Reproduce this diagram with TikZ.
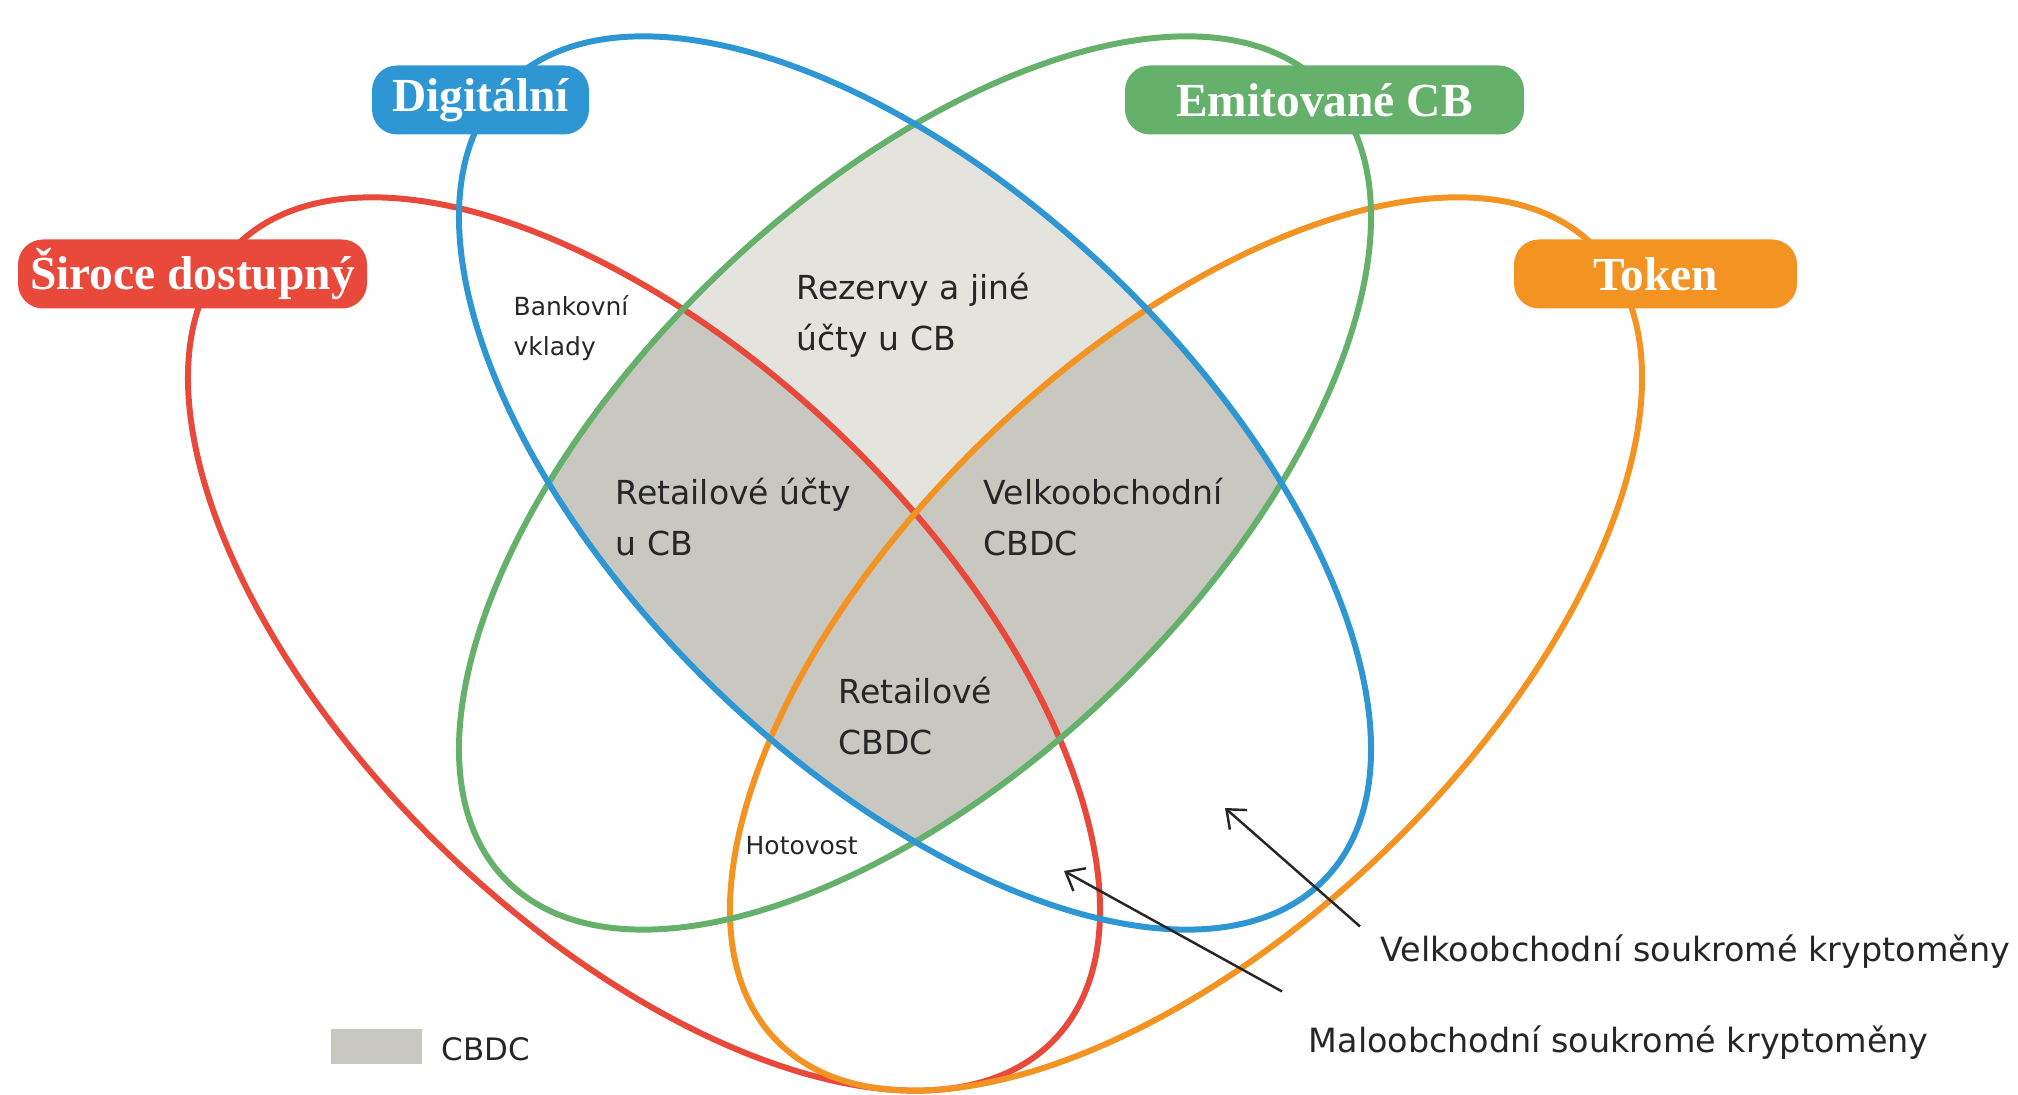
\documentclass[tikz,border=0pt]{standalone}
\usepackage{fontspec}
\setmainfont{DejaVu Sans}
\newfontfamily\tagfont{Liberation Serif}
\usepackage{tikz}
\usetikzlibrary{arrows.meta}
\definecolor{digitblue}{HTML}{2F96D4}
\definecolor{emitgreen}{HTML}{65B06B}
\definecolor{sirored}{HTML}{E8493B}
\definecolor{tokenorange}{HTML}{F39322}
\definecolor{cblight}{HTML}{E4E3DE}
\definecolor{cbdcgray}{HTML}{C8C7C0}
\definecolor{inkgray}{HTML}{262626}

\tikzset{
  ring/.style={line width=1.7pt},
  digitset/.style={shift={(9.15,6.12)},rotate=-44},
  emitset/.style={shift={(9.15,6.12)},rotate=44},
  siroset/.style={shift={(6.44,4.51)},rotate=-44},
  tokenset/.style={shift={(11.86,4.51)},rotate=44},
  tag/.style={rounded corners=0.25cm, text=white, inner sep=0pt,
    minimum height=0.69cm, font=\tagfont\bfseries\fontsize{13.5}{16}\selectfont},
  lbl/.style={anchor=west, inner sep=0pt, align=left, text=inkgray,
    font=\fontsize{9.4}{14.5}\selectfont},
  smalllbl/.style={anchor=west, inner sep=0pt, align=left, text=inkgray,
    font=\fontsize{7.1}{11.4}\selectfont},
  pointer/.style={-{Straight Barb[length=1.6mm,width=2.6mm]}, inkgray, line width=0.7pt}
}

\begin{document}
\begin{tikzpicture}
           \useasboundingbox (0,0) rectangle (20.18,10.95);

           % Shaded overlap of digital and CB issued
           \begin{scope}
             \clip[digitset] (0,0) ellipse (5.7 and 2.87);
             \clip[emitset] (0,0) ellipse (5.7 and 2.87);
             \fill[cblight] (0,0) rectangle (20.18,10.95);
             \fill[cbdcgray, siroset] (0,0) ellipse (5.7 and 2.87);
             \fill[cbdcgray, tokenset] (0,0) ellipse (5.7 and 2.87);
           \end{scope}

           % Ellipses
           \draw[ring, sirored, siroset] (0,0) ellipse (5.7 and 2.87);
           \draw[ring, tokenorange, tokenset] (0,0) ellipse (5.7 and 2.87);
           \draw[ring, emitgreen, emitset] (0,0) ellipse (5.7 and 2.87);
           \draw[ring, digitblue, digitset] (0,0) ellipse (5.7 and 2.87);

           % Set labels
           \draw (4.805,9.95) node (digital) [tag, fill=digitblue, minimum width=2.17cm] {Digitální};
           \draw (13.245,9.95) node (emitcb) [tag, fill=emitgreen, minimum width=3.99cm] {Emitované CB};
           \draw (1.925,8.21) node (siroce) [tag, fill=sirored, minimum width=3.49cm] {Široce dostupný};
           \draw (16.555,8.21) node (token) [tag, fill=tokenorange, minimum width=2.83cm] {Token};

           % Region labels
           \draw (5.13,7.67) node (bankvkl) [smalllbl] {Bankovní\\vklady};
           \draw (7.96,7.795) node (rezervy) [lbl] {Rezervy a jiné\\účty u CB};
           \draw (6.15,5.775) node (retucty) [lbl] {Retailové účty\\u CB};
           \draw (9.83,5.775) node (velkcbdc) [lbl] {Velkoobchodní\\CBDC};
           \draw (8.38,3.785) node (retcbdc) [lbl] {Retailové\\CBDC};
           \draw (7.45,2.49) node (hotovost) [smalllbl] {Hotovost};

           % Private crypto
           \draw (13.80,1.43) node (velkkrypto) [lbl, font=\fontsize{9.5}{11}\selectfont] {Velkoobchodní soukromé kryptoměny};
           \draw (13.08,0.52) node (malokrypto) [lbl, font=\fontsize{9.5}{11}\selectfont] {Maloobchodní soukromé kryptoměny};
           \coordinate (velk from) at ([shift={(-0.2,0.08)}]velkkrypto.north west);
           \coordinate (velk tip) at (12.25,2.87);
           \coordinate (malo from) at ([shift={(-0.26,0.34)}]malokrypto.north west);
           \coordinate (malo tip) at (10.64,2.24);
           \draw [pointer] (velk from)--(velk tip);
           \draw [pointer] (malo from)--(malo tip);

           % Legend
           \filldraw[cbdcgray] (3.32,0.32) rectangle (4.21,0.65);
           \draw (4.41,0.46) node (legend) [lbl, font=\fontsize{8.8}{11}\selectfont] {CBDC};

          \end{tikzpicture}
\end{document}
